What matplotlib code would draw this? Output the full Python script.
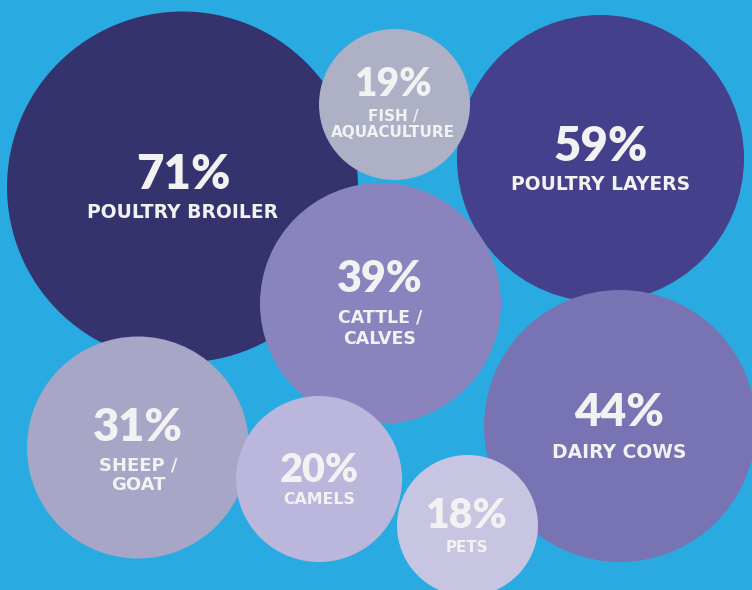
import matplotlib
matplotlib.use("Agg")
import matplotlib.pyplot as plt
from matplotlib.patches import Circle

# ---- data ----
categories = ["POULTRY BROILER", "POULTRY LAYERS", "DAIRY COWS", "FISH /\nAQUACULTURE",
              "CATTLE /\nCALVES", "SHEEP /\nGOAT", "CAMELS", "PETS"]
values = [71, 59, 44, 19, 39, 31, 20, 18]

# ---- layout (pixel coordinates, y downward) ----
centers = [(182.5, 187), (600.5, 158.5), (620, 426), (394.5, 104.5),
           (380.5, 303.5), (138, 447.5), (319, 479), (467.5, 525.5)]
radii = [175.5, 143.5, 136, 75.5, 120.5, 111, 83, 70.5]
fills = ["#35336E", "#44408B", "#7873B3", "#AEB0C6",
         "#8984BE", "#A8A6C6", "#BBB7DC", "#C7C5E1"]
pct_y = [175, 147, 413, 85, 278.5, 427.5, 470, 516]
pct_x = [183, 601, 619, 393, 380, 138, 319, 466.5]
pct_size = [34, 34, 32.5, 28, 31, 32.5, 28.5, 29.5]
lab_y = [213, 184, 452, 116.7, 317.5, 465, 500, 547]
lab_size = [13.5, 13.5, 13.5, 11, 12.5, 13, 11.3, 10.8]
lab_gap = [0, 0, 0, 15.5, 21.5, 20, 0, 0]

BG = "#29ABE2"
TXT = "#F2F2F2"
PCT_FONT = ["Lato", "DejaVu Sans"]
LAB_FONT = ["DejaVu Sans"]

fig = plt.figure(figsize=(7.52, 5.90), dpi=100, facecolor=BG)
ax = fig.add_axes([0, 0, 1, 1])
ax.set_facecolor(BG)
ax.set_xlim(0, 752)
ax.set_ylim(590, 0)
ax.set_aspect("equal")
ax.axis("off")

for i, (cat, v) in enumerate(zip(categories, values)):
    cx, cy = centers[i]
    ax.add_patch(Circle((cx, cy), radii[i], facecolor=fills[i], edgecolor="none", zorder=i + 1))
    ax.text(pct_x[i], pct_y[i], f"{v}%", ha="center", va="center", color=TXT,
            fontsize=pct_size[i], fontweight="heavy", family=PCT_FONT, zorder=20)
    lines = cat.split("\n")
    for j, ln in enumerate(lines):
        ax.text(pct_x[i], lab_y[i] + j * lab_gap[i], ln, ha="center", va="center", color=TXT,
                fontsize=lab_size[i], fontweight="bold", family=LAB_FONT, zorder=20)

fig.savefig("out.png", dpi=100, facecolor=BG)
